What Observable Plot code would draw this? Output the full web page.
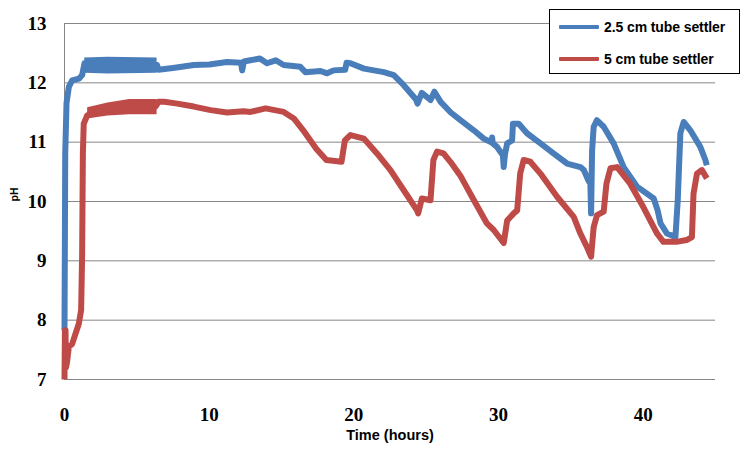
<!DOCTYPE html>
<html>
<head>
<meta charset="utf-8">
<script src="https://cdn.jsdelivr.net/npm/d3@7"></script>
<script src="https://cdn.jsdelivr.net/npm/@observablehq/plot@0.6"></script>
<style>
  html, body { margin: 0; padding: 0; background: #fff; }
  #wrap { position: relative; width: 752px; height: 451px; }
  #legend {
    position: absolute; left: 549px; top: 9px; width: 189px; height: 63px;
    border: 1px solid #000; background: #fff;
    font-family: "Liberation Sans", Arial, sans-serif; font-weight: bold; font-size: 14px; color: #000;
    letter-spacing: -0.1px;
  }
  .item { position: absolute; left: 9px; height: 16px; display: flex; align-items: center; }
  .swatch { width: 40px; height: 3.5px; margin-right: 5px; border-radius: 1px; }
</style>
</head>
<body>
<div id="wrap"><div id="chart"></div><div id="legend"></div></div>
<script>
// ---- data ----
const seriesNames = ["2.5 cm tube settler", "5 cm tube settler"];
const seriesColors = ["#4A7EBB", "#BE4B48"];

const blueTime = [0, 0.03, 0.05, 0.14, 0.3, 0.53, 1.0, 1.22, 1.38, 2.0, 3.0, 4.0, 5.0, 6.0, 6.4, 6.5, 7.5, 8.94, 10.0, 11.24, 12.2, 12.28, 12.4, 12.85, 13.5, 14.0, 14.6, 15.15, 16.3, 16.65, 17.7, 18.15, 18.6, 19.4, 19.5, 19.77, 20.7, 22.07, 22.76, 23.45, 24.3, 24.4, 24.7, 25.3, 25.57, 26.0, 26.7, 27.37, 28.29, 28.98, 29.5, 29.56, 29.6, 29.9, 30.13, 30.3, 30.36, 30.45, 30.6, 30.94, 31.0, 31.4, 31.97, 32.9, 33.8, 34.74, 35.66, 35.9, 36.2, 36.35, 36.4, 36.47, 36.58, 36.8, 37.27, 37.96, 38.65, 39.58, 40.73, 41.0, 41.2, 41.65, 42.23, 42.39, 42.57, 42.8, 43.26, 43.95, 44.3, 44.4];
const bluePH = [7.83, 9.5, 10.8, 11.66, 11.93, 12.04, 12.07, 12.13, 12.33, 12.3, 12.28, 12.3, 12.27, 12.28, 12.3, 12.22, 12.25, 12.3, 12.31, 12.35, 12.34, 12.21, 12.36, 12.38, 12.41, 12.33, 12.38, 12.30, 12.27, 12.18, 12.2, 12.16, 12.21, 12.22, 12.34, 12.33, 12.24, 12.18, 12.13, 11.96, 11.72, 11.65, 11.83, 11.71, 11.85, 11.68, 11.5, 11.37, 11.2, 11.06, 11.0, 11.08, 10.98, 10.92, 10.84, 10.78, 10.58, 10.8, 10.98, 11.03, 11.31, 11.31, 11.15, 10.98, 10.81, 10.64, 10.58, 10.53, 10.36, 10.3, 9.8, 10.86, 11.26, 11.37, 11.26, 10.98, 10.58, 10.25, 10.05, 9.85, 9.63, 9.46, 9.40, 10.02, 11.15, 11.34, 11.2, 10.92, 10.7, 10.61];

const redTime = [0, 0.03, 0.07, 0.1, 0.18, 0.3, 0.53, 0.76, 0.99, 1.15, 1.22, 1.27, 1.33, 1.57, 2.02, 3.18, 4.33, 5.7, 6.29, 6.5, 6.9, 7.8, 8.94, 10.1, 11.24, 12.39, 12.85, 13.9, 15.15, 15.85, 16.5, 17.4, 18.1, 19.15, 19.38, 19.77, 20.7, 21.6, 22.53, 23.45, 24.37, 24.45, 24.7, 25.3, 25.5, 25.75, 26.2, 26.7, 27.4, 28.3, 29.2, 29.67, 30.36, 30.6, 31.05, 31.29, 31.5, 31.74, 32.2, 32.9, 34.05, 35.2, 35.66, 36.1, 36.4, 36.58, 36.81, 37.27, 37.46, 37.74, 38.2, 39.1, 40.0, 40.96, 41.4, 42.3, 43.0, 43.37, 43.48, 43.72, 44.06, 44.4];
const redPH = [7.0, 7.83, 7.83, 7.2, 7.3, 7.55, 7.6, 7.77, 7.94, 8.17, 9.12, 10.81, 11.31, 11.45, 11.52, 11.56, 11.6, 11.62, 11.6, 11.68, 11.68, 11.65, 11.6, 11.54, 11.5, 11.52, 11.51, 11.57, 11.51, 11.4, 11.2, 10.89, 10.7, 10.67, 11.03, 11.12, 11.06, 10.81, 10.53, 10.19, 9.85, 9.8, 10.05, 10.02, 10.7, 10.84, 10.81, 10.66, 10.42, 10.02, 9.63, 9.52, 9.3, 9.68, 9.8, 9.85, 10.47, 10.7, 10.67, 10.47, 10.08, 9.74, 9.46, 9.24, 9.07, 9.57, 9.77, 9.83, 10.3, 10.56, 10.58, 10.3, 9.91, 9.46, 9.32, 9.32, 9.35, 9.4, 10.13, 10.47, 10.53, 10.39];

// noisy envelopes (min / max of the readings) in the early, jittery part
const blueBandTime = [1.4, 3.0, 6.4];
const blueBandLow = [12.16, 12.15, 12.16];
const blueBandHigh = [12.42, 12.43, 12.42];
const redBandTime = [1.6, 3.0, 4.5, 6.4];
const redBandLow = [11.39, 11.44, 11.46, 11.46];
const redBandHigh = [11.58, 11.66, 11.72, 11.72];

const xTicks = [0, 10, 20, 30, 40];
const yTicks = [7, 8, 9, 10, 11, 12, 13];
const xLabel = "Time (hours)";
const yLabel = "pH";

// ---- tables ----
const blue = blueTime.map((t, i) => ({t, ph: bluePH[i]}));
const red = redTime.map((t, i) => ({t, ph: redPH[i]}));
const blueBand = blueBandTime.map((t, i) => ({t, lo: blueBandLow[i], hi: blueBandHigh[i]}));
const redBand = redBandTime.map((t, i) => ({t, lo: redBandLow[i], hi: redBandHigh[i]}));

const tickFont = {fontFamily: "'Liberation Serif', 'Times New Roman', serif", fontWeight: "bold", fontSize: 19};

const chart = Plot.plot({
  width: 752,
  height: 451,
  marginLeft: 64,
  marginRight: 37,
  marginTop: 23,
  marginBottom: 72,
  style: {background: "#fff", color: "#000", overflow: "visible"},
  x: {domain: [0, 45]},
  y: {domain: [7, 13]},
  marks: [
    Plot.ruleY(yTicks, {stroke: "#868686", strokeWidth: 1}),
    Plot.ruleX([0], {stroke: "#868686", strokeWidth: 1}),
    Plot.areaY(blueBand, {x: "t", y1: "lo", y2: "hi", fill: seriesColors[0], curve: "linear"}),
    Plot.line(blue, {x: "t", y: "ph", stroke: seriesColors[0], strokeWidth: 6, strokeLinejoin: "round", strokeLinecap: "butt"}),
    Plot.areaY(redBand, {x: "t", y1: "lo", y2: "hi", fill: seriesColors[1], curve: "linear"}),
    Plot.line(red, {x: "t", y: "ph", stroke: seriesColors[1], strokeWidth: 6, strokeLinejoin: "round", strokeLinecap: "butt"}),
    Plot.axisX({ticks: xTicks, tickSize: 0, tickPadding: 28, tickFormat: d => String(d), label: null, ...tickFont}),
    Plot.axisY({ticks: yTicks, tickSize: 0, tickPadding: 18, tickFormat: d => String(d), label: null, ...tickFont}),
    Plot.text([xLabel], {frameAnchor: "bottom", dy: 60, fontFamily: "'Liberation Sans', Arial, sans-serif", fontWeight: "bold", fontSize: 14.5, fill: "#000"}),
    Plot.text([yLabel], {frameAnchor: "left", dx: -50, rotate: -90, fontFamily: "'Liberation Sans', Arial, sans-serif", fontWeight: "bold", fontSize: 10.5, fill: "#000"})
  ]
});
document.getElementById("chart").appendChild(chart);

// legend
const legend = document.getElementById("legend");
seriesNames.forEach((name, i) => {
  const item = document.createElement("div");
  item.className = "item";
  item.style.top = (i === 0 ? 9 : 41) + "px";
  const sw = document.createElement("div");
  sw.className = "swatch";
  sw.style.background = seriesColors[i];
  const label = document.createElement("span");
  label.textContent = name;
  item.appendChild(sw);
  item.appendChild(label);
  legend.appendChild(item);
});
</script>
</body>
</html>
